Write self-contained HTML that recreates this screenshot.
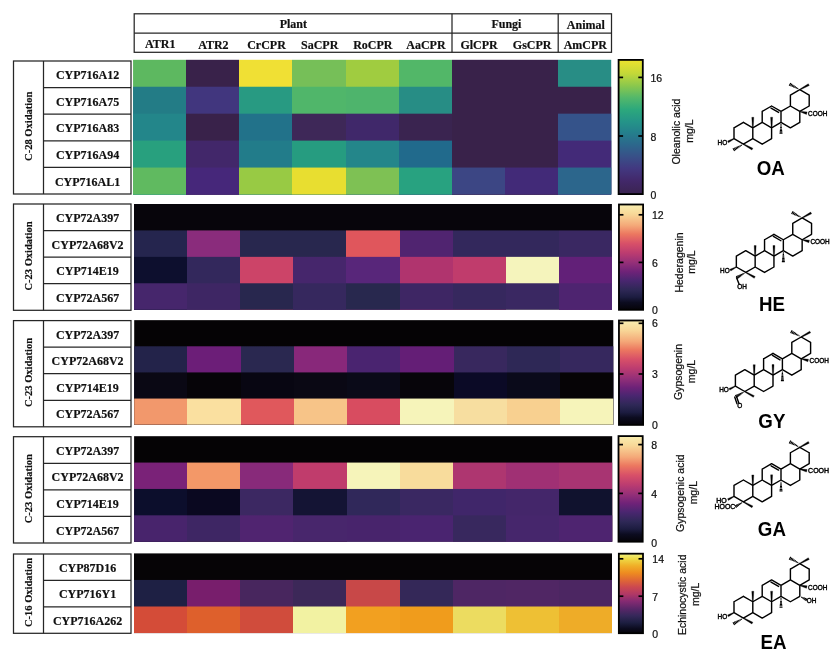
<!DOCTYPE html>
<html lang="en"><head><meta charset="utf-8"><title>CYP-CPR pairing heatmaps</title>
<style>
html,body{margin:0;padding:0;background:#fff;}
body{width:831px;height:655px;overflow:hidden;position:relative;}
svg{position:absolute;left:0;top:0;display:block;}
.se{font-family:"Liberation Serif", "Times New Roman", serif;font-weight:bold;fill:#111;stroke:#111;stroke-width:0.18;}
.sa{font-family:"Liberation Sans", Arial, sans-serif;fill:#111;stroke:#111;stroke-width:0.22;}
.sb{font-family:"Liberation Sans", Arial, sans-serif;font-weight:bold;fill:#000;}
.ln{stroke:#262626;stroke-width:1.25;fill:none;}
.bd{stroke:#000;stroke-width:1.42;fill:none;stroke-linecap:round;stroke-linejoin:round;}
.hs{stroke:#000;stroke-width:1.15;fill:none;}
.wg{fill:#000;stroke:#000;stroke-width:0.3;stroke-linejoin:round;}
.at{font-family:"Liberation Sans", Arial, sans-serif;fill:#000;stroke:#000;stroke-width:0.42;}
</style></head><body>
<svg width="831" height="655" viewBox="0 0 831 655">
<defs>
<linearGradient id="gv" x1="0" y1="0" x2="0" y2="1">
<stop offset="0" stop-color="#ECE22E"/>
<stop offset="0.1" stop-color="#C4D838"/>
<stop offset="0.19" stop-color="#8CC84C"/>
<stop offset="0.28" stop-color="#54B86A"/>
<stop offset="0.37" stop-color="#2CA87C"/>
<stop offset="0.46" stop-color="#249488"/>
<stop offset="0.54" stop-color="#24808C"/>
<stop offset="0.63" stop-color="#2C688C"/>
<stop offset="0.72" stop-color="#385088"/>
<stop offset="0.81" stop-color="#423880"/>
<stop offset="0.9" stop-color="#42286A"/>
<stop offset="1" stop-color="#3A2450"/>
</linearGradient>
<linearGradient id="gm" x1="0" y1="0" x2="0" y2="1">
<stop offset="0" stop-color="#F8EEB0"/>
<stop offset="0.09" stop-color="#F8D898"/>
<stop offset="0.2" stop-color="#F4A878"/>
<stop offset="0.28" stop-color="#EC7860"/>
<stop offset="0.37" stop-color="#D85068"/>
<stop offset="0.46" stop-color="#BC3C70"/>
<stop offset="0.55" stop-color="#963078"/>
<stop offset="0.64" stop-color="#6E2278"/>
<stop offset="0.72" stop-color="#4A2670"/>
<stop offset="0.81" stop-color="#2E2856"/>
<stop offset="0.88" stop-color="#1C1C40"/>
<stop offset="0.93" stop-color="#0C0C20"/>
<stop offset="1" stop-color="#050308"/>
</linearGradient>
<linearGradient id="gi" x1="0" y1="0" x2="0" y2="1">
<stop offset="0" stop-color="#F0F080"/>
<stop offset="0.06" stop-color="#EEDC48"/>
<stop offset="0.15" stop-color="#F0B028"/>
<stop offset="0.24" stop-color="#EE8C20"/>
<stop offset="0.33" stop-color="#E06834"/>
<stop offset="0.42" stop-color="#CC4850"/>
<stop offset="0.51" stop-color="#B03866"/>
<stop offset="0.6" stop-color="#842A72"/>
<stop offset="0.69" stop-color="#5A2668"/>
<stop offset="0.78" stop-color="#36285A"/>
<stop offset="0.87" stop-color="#1C1E40"/>
<stop offset="0.94" stop-color="#0C0C20"/>
<stop offset="1" stop-color="#050308"/>
</linearGradient>
</defs>
<rect x="0" y="0" width="831" height="655" fill="#fff"/>
<g class="ln">
<rect x="134.2" y="13.8" width="477.3" height="38.5"/>
<line x1="134.2" y1="33" x2="611.5" y2="33"/>
<line x1="452" y1="13.8" x2="452" y2="52.3"/>
<line x1="558.2" y1="13.8" x2="558.2" y2="52.3"/>
</g>
<g class="se" font-size="12" text-anchor="middle">
<text x="293.3" y="27.8">Plant</text>
<text x="506.4" y="27.8">Fungi</text>
<text x="585.85" y="28.6">Animal</text>
<text x="160.27" y="47.9">ATR1</text>
<text x="213.4" y="48.8">ATR2</text>
<text x="266.53" y="48.8">CrCPR</text>
<text x="319.67" y="48.8">SaCPR</text>
<text x="372.8" y="48.8">RoCPR</text>
<text x="425.93" y="48.8">AaCPR</text>
<text x="479.07" y="48.8">GlCPR</text>
<text x="532.2" y="48.8">GsCPR</text>
<text x="585.33" y="48.8">AmCPR</text>
</g>
<g>
<linearGradient id="r0_0" gradientUnits="userSpaceOnUse" x1="133.05" y1="0" x2="611.2" y2="0"><stop offset="0.0000" stop-color="#5DB860"/><stop offset="0.1111" stop-color="#5DB860"/><stop offset="0.1111" stop-color="#39224A"/><stop offset="0.2222" stop-color="#39224A"/><stop offset="0.2222" stop-color="#F0E034"/><stop offset="0.3333" stop-color="#F0E034"/><stop offset="0.3333" stop-color="#76BF58"/><stop offset="0.4444" stop-color="#76BF58"/><stop offset="0.4444" stop-color="#A0CC40"/><stop offset="0.5556" stop-color="#A0CC40"/><stop offset="0.5556" stop-color="#52B768"/><stop offset="0.6667" stop-color="#52B768"/><stop offset="0.6667" stop-color="#39224A"/><stop offset="0.8889" stop-color="#39224A"/><stop offset="0.8889" stop-color="#288D85"/><stop offset="1.0000" stop-color="#288D85"/></linearGradient>
<rect x="133.05" y="59.8" width="478.15" height="134.7" fill="url(#r0_0)"/>
<linearGradient id="r0_1" gradientUnits="userSpaceOnUse" x1="133.05" y1="0" x2="611.2" y2="0"><stop offset="0.0000" stop-color="#237C86"/><stop offset="0.1111" stop-color="#237C86"/><stop offset="0.1111" stop-color="#41367E"/><stop offset="0.2222" stop-color="#41367E"/><stop offset="0.2222" stop-color="#289A82"/><stop offset="0.3333" stop-color="#289A82"/><stop offset="0.3333" stop-color="#50B66A"/><stop offset="0.4444" stop-color="#50B66A"/><stop offset="0.4444" stop-color="#4EB46C"/><stop offset="0.5556" stop-color="#4EB46C"/><stop offset="0.5556" stop-color="#278D85"/><stop offset="0.6667" stop-color="#278D85"/><stop offset="0.6667" stop-color="#39224A"/><stop offset="1.0000" stop-color="#39224A"/></linearGradient>
<rect x="133.05" y="86.74" width="478.15" height="107.76" fill="url(#r0_1)"/>
<linearGradient id="r0_2" gradientUnits="userSpaceOnUse" x1="133.05" y1="0" x2="611.2" y2="0"><stop offset="0.0000" stop-color="#23868A"/><stop offset="0.1111" stop-color="#23868A"/><stop offset="0.1111" stop-color="#39224A"/><stop offset="0.2222" stop-color="#39224A"/><stop offset="0.2222" stop-color="#22728A"/><stop offset="0.3333" stop-color="#22728A"/><stop offset="0.3333" stop-color="#3E2858"/><stop offset="0.4444" stop-color="#3E2858"/><stop offset="0.4444" stop-color="#40286A"/><stop offset="0.5556" stop-color="#40286A"/><stop offset="0.5556" stop-color="#3A2450"/><stop offset="0.6667" stop-color="#3A2450"/><stop offset="0.6667" stop-color="#39224A"/><stop offset="0.8889" stop-color="#39224A"/><stop offset="0.8889" stop-color="#35538A"/><stop offset="1.0000" stop-color="#35538A"/></linearGradient>
<rect x="133.05" y="113.68" width="478.15" height="80.82" fill="url(#r0_2)"/>
<linearGradient id="r0_3" gradientUnits="userSpaceOnUse" x1="133.05" y1="0" x2="611.2" y2="0"><stop offset="0.0000" stop-color="#28A07E"/><stop offset="0.1111" stop-color="#28A07E"/><stop offset="0.1111" stop-color="#42276A"/><stop offset="0.2222" stop-color="#42276A"/><stop offset="0.2222" stop-color="#227C8A"/><stop offset="0.3333" stop-color="#227C8A"/><stop offset="0.3333" stop-color="#269C80"/><stop offset="0.4444" stop-color="#269C80"/><stop offset="0.4444" stop-color="#24868A"/><stop offset="0.5556" stop-color="#24868A"/><stop offset="0.5556" stop-color="#216A8C"/><stop offset="0.6667" stop-color="#216A8C"/><stop offset="0.6667" stop-color="#39224A"/><stop offset="0.8889" stop-color="#39224A"/><stop offset="0.8889" stop-color="#432A78"/><stop offset="1.0000" stop-color="#432A78"/></linearGradient>
<rect x="133.05" y="140.62" width="478.15" height="53.88" fill="url(#r0_3)"/>
<linearGradient id="r0_4" gradientUnits="userSpaceOnUse" x1="133.05" y1="0" x2="611.2" y2="0"><stop offset="0.0000" stop-color="#60BA60"/><stop offset="0.1111" stop-color="#60BA60"/><stop offset="0.1111" stop-color="#46277A"/><stop offset="0.2222" stop-color="#46277A"/><stop offset="0.2222" stop-color="#98CA44"/><stop offset="0.3333" stop-color="#98CA44"/><stop offset="0.3333" stop-color="#E8DE30"/><stop offset="0.4444" stop-color="#E8DE30"/><stop offset="0.4444" stop-color="#7EC154"/><stop offset="0.5556" stop-color="#7EC154"/><stop offset="0.5556" stop-color="#28A280"/><stop offset="0.6667" stop-color="#28A280"/><stop offset="0.6667" stop-color="#3C4684"/><stop offset="0.7778" stop-color="#3C4684"/><stop offset="0.7778" stop-color="#422A78"/><stop offset="0.8889" stop-color="#422A78"/><stop offset="0.8889" stop-color="#2C668C"/><stop offset="1.0000" stop-color="#2C668C"/></linearGradient>
<rect x="133.05" y="167.56" width="478.15" height="26.94" fill="url(#r0_4)"/>
</g>
<g class="ln">
<rect x="13.5" y="61" width="117.5" height="133"/>
<line x1="43.5" y1="61" x2="43.5" y2="194"/>
<line x1="43.5" y1="87.6" x2="131" y2="87.6"/>
<line x1="43.5" y1="114.2" x2="131" y2="114.2"/>
<line x1="43.5" y1="140.8" x2="131" y2="140.8"/>
<line x1="43.5" y1="167.4" x2="131" y2="167.4"/>
</g>
<g class="se" font-size="12" text-anchor="middle">
<text x="87.55" y="79.1">CYP716A12</text>
<text x="87.55" y="105.7">CYP716A75</text>
<text x="87.55" y="132.3">CYP716A83</text>
<text x="87.55" y="158.9">CYP716A94</text>
<text x="87.55" y="185.5">CYP716AL1</text>
</g>
<text class="se" font-size="11.3" text-anchor="middle" transform="translate(31.5 126.3) rotate(-90) scale(0.93 1)">C-28 Oxidation</text>
<g>
<rect x="134" y="204" width="477.9" height="105.7" fill="#07050B"/>
<linearGradient id="r1_1" gradientUnits="userSpaceOnUse" x1="134" y1="0" x2="611.9" y2="0"><stop offset="0.0000" stop-color="#25254E"/><stop offset="0.1111" stop-color="#25254E"/><stop offset="0.1111" stop-color="#8A2C7C"/><stop offset="0.2222" stop-color="#8A2C7C"/><stop offset="0.2222" stop-color="#28274E"/><stop offset="0.4444" stop-color="#28274E"/><stop offset="0.4444" stop-color="#E0565C"/><stop offset="0.5556" stop-color="#E0565C"/><stop offset="0.5556" stop-color="#502470"/><stop offset="0.6667" stop-color="#502470"/><stop offset="0.6667" stop-color="#33285C"/><stop offset="0.8889" stop-color="#33285C"/><stop offset="0.8889" stop-color="#3A2862"/><stop offset="1.0000" stop-color="#3A2862"/></linearGradient>
<rect x="134" y="230.43" width="477.9" height="79.27" fill="url(#r1_1)"/>
<linearGradient id="r1_2" gradientUnits="userSpaceOnUse" x1="134" y1="0" x2="611.9" y2="0"><stop offset="0.0000" stop-color="#0D0F2E"/><stop offset="0.1111" stop-color="#0D0F2E"/><stop offset="0.1111" stop-color="#33285C"/><stop offset="0.2222" stop-color="#33285C"/><stop offset="0.2222" stop-color="#CC4468"/><stop offset="0.3333" stop-color="#CC4468"/><stop offset="0.3333" stop-color="#46266C"/><stop offset="0.4444" stop-color="#46266C"/><stop offset="0.4444" stop-color="#58267A"/><stop offset="0.5556" stop-color="#58267A"/><stop offset="0.5556" stop-color="#B0346E"/><stop offset="0.6667" stop-color="#B0346E"/><stop offset="0.6667" stop-color="#C03C6C"/><stop offset="0.7778" stop-color="#C03C6C"/><stop offset="0.7778" stop-color="#F5F4BC"/><stop offset="0.8889" stop-color="#F5F4BC"/><stop offset="0.8889" stop-color="#622078"/><stop offset="1.0000" stop-color="#622078"/></linearGradient>
<rect x="134" y="256.85" width="477.9" height="52.85" fill="url(#r1_2)"/>
<linearGradient id="r1_3" gradientUnits="userSpaceOnUse" x1="134" y1="0" x2="611.9" y2="0"><stop offset="0.0000" stop-color="#46266C"/><stop offset="0.1111" stop-color="#46266C"/><stop offset="0.1111" stop-color="#3E2664"/><stop offset="0.2222" stop-color="#3E2664"/><stop offset="0.2222" stop-color="#28274E"/><stop offset="0.3333" stop-color="#28274E"/><stop offset="0.3333" stop-color="#36285E"/><stop offset="0.4444" stop-color="#36285E"/><stop offset="0.4444" stop-color="#28284E"/><stop offset="0.5556" stop-color="#28284E"/><stop offset="0.5556" stop-color="#3E2664"/><stop offset="0.6667" stop-color="#3E2664"/><stop offset="0.6667" stop-color="#36285E"/><stop offset="0.7778" stop-color="#36285E"/><stop offset="0.7778" stop-color="#3A2862"/><stop offset="0.8889" stop-color="#3A2862"/><stop offset="0.8889" stop-color="#4E2470"/><stop offset="1.0000" stop-color="#4E2470"/></linearGradient>
<rect x="134" y="283.27" width="477.9" height="26.43" fill="url(#r1_3)"/>
</g>
<g class="ln">
<rect x="13.5" y="204" width="117.5" height="106.3"/>
<line x1="43.5" y1="204" x2="43.5" y2="310.3"/>
<line x1="43.5" y1="230.57" x2="131" y2="230.57"/>
<line x1="43.5" y1="257.15" x2="131" y2="257.15"/>
<line x1="43.5" y1="283.73" x2="131" y2="283.73"/>
</g>
<g class="se" font-size="12" text-anchor="middle">
<text x="87.55" y="222.09">CYP72A397</text>
<text x="87.55" y="248.66">CYP72A68V2</text>
<text x="87.55" y="275.24">CYP714E19</text>
<text x="87.55" y="301.81">CYP72A567</text>
</g>
<text class="se" font-size="11.3" text-anchor="middle" transform="translate(31.5 255.95) rotate(-90) scale(0.93 1)">C-23 Oxidation</text>
<g>
<rect x="134.2" y="320.15" width="479.1" height="104.55" fill="#050305"/>
<linearGradient id="r2_1" gradientUnits="userSpaceOnUse" x1="134.2" y1="0" x2="613.3" y2="0"><stop offset="0.0000" stop-color="#23234A"/><stop offset="0.1111" stop-color="#23234A"/><stop offset="0.1111" stop-color="#6C1E78"/><stop offset="0.2222" stop-color="#6C1E78"/><stop offset="0.2222" stop-color="#2A2850"/><stop offset="0.3333" stop-color="#2A2850"/><stop offset="0.3333" stop-color="#88287A"/><stop offset="0.4444" stop-color="#88287A"/><stop offset="0.4444" stop-color="#4A2470"/><stop offset="0.5556" stop-color="#4A2470"/><stop offset="0.5556" stop-color="#641E76"/><stop offset="0.6667" stop-color="#641E76"/><stop offset="0.6667" stop-color="#38285E"/><stop offset="0.7778" stop-color="#38285E"/><stop offset="0.7778" stop-color="#2E2856"/><stop offset="0.8889" stop-color="#2E2856"/><stop offset="0.8889" stop-color="#36285E"/><stop offset="1.0000" stop-color="#36285E"/></linearGradient>
<rect x="134.2" y="346.29" width="479.1" height="78.41" fill="url(#r2_1)"/>
<linearGradient id="r2_2" gradientUnits="userSpaceOnUse" x1="134.2" y1="0" x2="613.3" y2="0"><stop offset="0.0000" stop-color="#0A0814"/><stop offset="0.1111" stop-color="#0A0814"/><stop offset="0.1111" stop-color="#060408"/><stop offset="0.2222" stop-color="#060408"/><stop offset="0.2222" stop-color="#080612"/><stop offset="0.3333" stop-color="#080612"/><stop offset="0.3333" stop-color="#0A0814"/><stop offset="0.4444" stop-color="#0A0814"/><stop offset="0.4444" stop-color="#0A0A18"/><stop offset="0.5556" stop-color="#0A0A18"/><stop offset="0.5556" stop-color="#07050A"/><stop offset="0.6667" stop-color="#07050A"/><stop offset="0.6667" stop-color="#0B0A26"/><stop offset="0.7778" stop-color="#0B0A26"/><stop offset="0.7778" stop-color="#0A0A1A"/><stop offset="0.8889" stop-color="#0A0A1A"/><stop offset="0.8889" stop-color="#060406"/><stop offset="1.0000" stop-color="#060406"/></linearGradient>
<rect x="134.2" y="372.42" width="479.1" height="52.28" fill="url(#r2_2)"/>
<linearGradient id="r2_3" gradientUnits="userSpaceOnUse" x1="134.2" y1="0" x2="613.3" y2="0"><stop offset="0.0000" stop-color="#F2986C"/><stop offset="0.1111" stop-color="#F2986C"/><stop offset="0.1111" stop-color="#FAE0A0"/><stop offset="0.2222" stop-color="#FAE0A0"/><stop offset="0.2222" stop-color="#E0585C"/><stop offset="0.3333" stop-color="#E0585C"/><stop offset="0.3333" stop-color="#F7C488"/><stop offset="0.4444" stop-color="#F7C488"/><stop offset="0.4444" stop-color="#D84C60"/><stop offset="0.5556" stop-color="#D84C60"/><stop offset="0.5556" stop-color="#F6F4BA"/><stop offset="0.6667" stop-color="#F6F4BA"/><stop offset="0.6667" stop-color="#F7DEA0"/><stop offset="0.7778" stop-color="#F7DEA0"/><stop offset="0.7778" stop-color="#F8D090"/><stop offset="0.8889" stop-color="#F8D090"/><stop offset="0.8889" stop-color="#F6F4BA"/><stop offset="1.0000" stop-color="#F6F4BA"/></linearGradient>
<rect x="134.2" y="398.56" width="479.1" height="26.14" fill="url(#r2_3)"/>
</g>
<g class="ln">
<rect x="13.5" y="320.6" width="117.5" height="106.2"/>
<line x1="43.5" y1="320.6" x2="43.5" y2="426.8"/>
<line x1="43.5" y1="347.15" x2="131" y2="347.15"/>
<line x1="43.5" y1="373.7" x2="131" y2="373.7"/>
<line x1="43.5" y1="400.25" x2="131" y2="400.25"/>
</g>
<g class="se" font-size="12" text-anchor="middle">
<text x="87.55" y="338.68">CYP72A397</text>
<text x="87.55" y="365.23">CYP72A68V2</text>
<text x="87.55" y="391.78">CYP714E19</text>
<text x="87.55" y="418.32">CYP72A567</text>
</g>
<text class="se" font-size="11.3" text-anchor="middle" transform="translate(31.5 372.5) rotate(-90) scale(0.93 1)">C-23 Oxidation</text>
<g>
<rect x="134.1" y="436.2" width="478.1" height="105.5" fill="#050305"/>
<linearGradient id="r3_1" gradientUnits="userSpaceOnUse" x1="134.1" y1="0" x2="612.2" y2="0"><stop offset="0.0000" stop-color="#7A2278"/><stop offset="0.1111" stop-color="#7A2278"/><stop offset="0.1111" stop-color="#F39868"/><stop offset="0.2222" stop-color="#F39868"/><stop offset="0.2222" stop-color="#882A7A"/><stop offset="0.3333" stop-color="#882A7A"/><stop offset="0.3333" stop-color="#C03C6C"/><stop offset="0.4444" stop-color="#C03C6C"/><stop offset="0.4444" stop-color="#F6F4BA"/><stop offset="0.5556" stop-color="#F6F4BA"/><stop offset="0.5556" stop-color="#F8DC9C"/><stop offset="0.6667" stop-color="#F8DC9C"/><stop offset="0.6667" stop-color="#AE3670"/><stop offset="0.7778" stop-color="#AE3670"/><stop offset="0.7778" stop-color="#A03074"/><stop offset="0.8889" stop-color="#A03074"/><stop offset="0.8889" stop-color="#A83472"/><stop offset="1.0000" stop-color="#A83472"/></linearGradient>
<rect x="134.1" y="462.57" width="478.1" height="79.13" fill="url(#r3_1)"/>
<linearGradient id="r3_2" gradientUnits="userSpaceOnUse" x1="134.1" y1="0" x2="612.2" y2="0"><stop offset="0.0000" stop-color="#0C0E2C"/><stop offset="0.1111" stop-color="#0C0E2C"/><stop offset="0.1111" stop-color="#0A0820"/><stop offset="0.2222" stop-color="#0A0820"/><stop offset="0.2222" stop-color="#3C2862"/><stop offset="0.3333" stop-color="#3C2862"/><stop offset="0.3333" stop-color="#141434"/><stop offset="0.4444" stop-color="#141434"/><stop offset="0.4444" stop-color="#30285A"/><stop offset="0.5556" stop-color="#30285A"/><stop offset="0.5556" stop-color="#3A2862"/><stop offset="0.6667" stop-color="#3A2862"/><stop offset="0.6667" stop-color="#40266A"/><stop offset="0.7778" stop-color="#40266A"/><stop offset="0.7778" stop-color="#44266A"/><stop offset="0.8889" stop-color="#44266A"/><stop offset="0.8889" stop-color="#10122E"/><stop offset="1.0000" stop-color="#10122E"/></linearGradient>
<rect x="134.1" y="488.95" width="478.1" height="52.75" fill="url(#r3_2)"/>
<linearGradient id="r3_3" gradientUnits="userSpaceOnUse" x1="134.1" y1="0" x2="612.2" y2="0"><stop offset="0.0000" stop-color="#48246C"/><stop offset="0.1111" stop-color="#48246C"/><stop offset="0.1111" stop-color="#3E2664"/><stop offset="0.2222" stop-color="#3E2664"/><stop offset="0.2222" stop-color="#502470"/><stop offset="0.3333" stop-color="#502470"/><stop offset="0.3333" stop-color="#48266C"/><stop offset="0.4444" stop-color="#48266C"/><stop offset="0.4444" stop-color="#48246C"/><stop offset="0.5556" stop-color="#48246C"/><stop offset="0.5556" stop-color="#4A2470"/><stop offset="0.6667" stop-color="#4A2470"/><stop offset="0.6667" stop-color="#38285E"/><stop offset="0.7778" stop-color="#38285E"/><stop offset="0.7778" stop-color="#46266C"/><stop offset="0.8889" stop-color="#46266C"/><stop offset="0.8889" stop-color="#4E2470"/><stop offset="1.0000" stop-color="#4E2470"/></linearGradient>
<rect x="134.1" y="515.33" width="478.1" height="26.38" fill="url(#r3_3)"/>
</g>
<g class="ln">
<rect x="13.5" y="436.7" width="117.5" height="106.3"/>
<line x1="43.5" y1="436.7" x2="43.5" y2="543"/>
<line x1="43.5" y1="463.27" x2="131" y2="463.27"/>
<line x1="43.5" y1="489.85" x2="131" y2="489.85"/>
<line x1="43.5" y1="516.42" x2="131" y2="516.42"/>
</g>
<g class="se" font-size="12" text-anchor="middle">
<text x="87.55" y="454.79">CYP72A397</text>
<text x="87.55" y="481.36">CYP72A68V2</text>
<text x="87.55" y="507.94">CYP714E19</text>
<text x="87.55" y="534.51">CYP72A567</text>
</g>
<text class="se" font-size="11.3" text-anchor="middle" transform="translate(31.5 488.65) rotate(-90) scale(0.93 1)">C-23 Oxidation</text>
<g>
<rect x="134" y="553.4" width="478" height="79.65" fill="#060406"/>
<linearGradient id="r4_1" gradientUnits="userSpaceOnUse" x1="134" y1="0" x2="612" y2="0"><stop offset="0.0000" stop-color="#1E2044"/><stop offset="0.1111" stop-color="#1E2044"/><stop offset="0.1111" stop-color="#781E6C"/><stop offset="0.2222" stop-color="#781E6C"/><stop offset="0.2222" stop-color="#48265E"/><stop offset="0.3333" stop-color="#48265E"/><stop offset="0.3333" stop-color="#3C2858"/><stop offset="0.4444" stop-color="#3C2858"/><stop offset="0.4444" stop-color="#C84848"/><stop offset="0.5556" stop-color="#C84848"/><stop offset="0.5556" stop-color="#342858"/><stop offset="0.6667" stop-color="#342858"/><stop offset="0.6667" stop-color="#4E2664"/><stop offset="0.7778" stop-color="#4E2664"/><stop offset="0.7778" stop-color="#502664"/><stop offset="0.8889" stop-color="#502664"/><stop offset="0.8889" stop-color="#4C2662"/><stop offset="1.0000" stop-color="#4C2662"/></linearGradient>
<rect x="134" y="579.95" width="478" height="53.1" fill="url(#r4_1)"/>
<linearGradient id="r4_2" gradientUnits="userSpaceOnUse" x1="134" y1="0" x2="612" y2="0"><stop offset="0.0000" stop-color="#D44C38"/><stop offset="0.1111" stop-color="#D44C38"/><stop offset="0.1111" stop-color="#DE602C"/><stop offset="0.2222" stop-color="#DE602C"/><stop offset="0.2222" stop-color="#D04C3C"/><stop offset="0.3333" stop-color="#D04C3C"/><stop offset="0.3333" stop-color="#F2F2A2"/><stop offset="0.4444" stop-color="#F2F2A2"/><stop offset="0.4444" stop-color="#F2A020"/><stop offset="0.5556" stop-color="#F2A020"/><stop offset="0.5556" stop-color="#F09C1C"/><stop offset="0.6667" stop-color="#F09C1C"/><stop offset="0.6667" stop-color="#ECDC60"/><stop offset="0.7778" stop-color="#ECDC60"/><stop offset="0.7778" stop-color="#EEC034"/><stop offset="0.8889" stop-color="#EEC034"/><stop offset="0.8889" stop-color="#EEAC28"/><stop offset="1.0000" stop-color="#EEAC28"/></linearGradient>
<rect x="134" y="606.5" width="478" height="26.55" fill="url(#r4_2)"/>
</g>
<g class="ln">
<rect x="13.5" y="554" width="117.5" height="79.3"/>
<line x1="43.5" y1="554" x2="43.5" y2="633.3"/>
<line x1="43.5" y1="580.43" x2="131" y2="580.43"/>
<line x1="43.5" y1="606.87" x2="131" y2="606.87"/>
</g>
<g class="se" font-size="12" text-anchor="middle">
<text x="87.55" y="572.02">CYP87D16</text>
<text x="87.55" y="598.45">CYP716Y1</text>
<text x="87.55" y="624.88">CYP716A262</text>
</g>
<text class="se" font-size="11.3" text-anchor="middle" transform="translate(31.5 592.45) rotate(-90) scale(0.93 1)">C-16 Oxidation</text>
<rect x="618.6" y="59.9" width="24.2" height="134.2" fill="url(#gv)" stroke="#000" stroke-width="1.8"/>
<g stroke="#000" stroke-width="1.7">
<line x1="618.7" y1="77.4" x2="623.1" y2="77.4"/>
<line x1="638.3" y1="77.4" x2="642.7" y2="77.4"/>
<line x1="618.7" y1="136" x2="623.1" y2="136"/>
<line x1="638.3" y1="136" x2="642.7" y2="136"/>
</g>
<g class="sa" font-size="10.5">
<text x="650.5" y="81.9">16</text>
<text x="650.5" y="140.5">8</text>
<text x="650.5" y="198.8">0</text>
</g>
<text class="sa" font-size="10.5" text-anchor="middle" transform="translate(680.1 131.6) rotate(-90)">Oleanolic acid</text>
<text class="sa" font-size="10.5" text-anchor="middle" transform="translate(692.8 131.1) rotate(-90)">mg/L</text>
<rect x="618.95" y="204.5" width="24.15" height="105.3" fill="url(#gm)" stroke="#000" stroke-width="1.8"/>
<g stroke="#000" stroke-width="1.7">
<line x1="619.05" y1="214.8" x2="623.45" y2="214.8"/>
<line x1="638.6" y1="214.8" x2="643" y2="214.8"/>
<line x1="619.05" y1="262.4" x2="623.45" y2="262.4"/>
<line x1="638.6" y1="262.4" x2="643" y2="262.4"/>
</g>
<g class="sa" font-size="10.5">
<text x="652" y="219.3">12</text>
<text x="652" y="267">6</text>
<text x="652" y="314.3">0</text>
</g>
<text class="sa" font-size="10.5" text-anchor="middle" transform="translate(682.6 262.5) rotate(-90)">Hederagenin</text>
<text class="sa" font-size="10.5" text-anchor="middle" transform="translate(694.6 262) rotate(-90)">mg/L</text>
<rect x="618.95" y="320.5" width="24.15" height="104.4" fill="url(#gm)" stroke="#000" stroke-width="1.8"/>
<g stroke="#000" stroke-width="1.7">
<line x1="619.05" y1="323.3" x2="623.45" y2="323.3"/>
<line x1="638.6" y1="323.3" x2="643" y2="323.3"/>
<line x1="619.05" y1="374" x2="623.45" y2="374"/>
<line x1="638.6" y1="374" x2="643" y2="374"/>
</g>
<g class="sa" font-size="10.5">
<text x="652" y="327.2">6</text>
<text x="652" y="378.2">3</text>
<text x="652" y="429.2">0</text>
</g>
<text class="sa" font-size="10.5" text-anchor="middle" transform="translate(682 372) rotate(-90)">Gypsogenin</text>
<text class="sa" font-size="10.5" text-anchor="middle" transform="translate(694.6 371.5) rotate(-90)">mg/L</text>
<rect x="618.5" y="436.1" width="24.2" height="105.6" fill="url(#gm)" stroke="#000" stroke-width="1.8"/>
<g stroke="#000" stroke-width="1.7">
<line x1="618.6" y1="444.6" x2="623" y2="444.6"/>
<line x1="638.2" y1="444.6" x2="642.6" y2="444.6"/>
<line x1="618.6" y1="493.4" x2="623" y2="493.4"/>
<line x1="638.2" y1="493.4" x2="642.6" y2="493.4"/>
</g>
<g class="sa" font-size="10.5">
<text x="651.3" y="449">8</text>
<text x="651.3" y="498.3">4</text>
<text x="651.3" y="546.6">0</text>
</g>
<text class="sa" font-size="10.5" text-anchor="middle" transform="translate(683.9 493.2) rotate(-90)">Gypsogenic acid</text>
<text class="sa" font-size="10.5" text-anchor="middle" transform="translate(697.1 492.7) rotate(-90)">mg/L</text>
<rect x="618.85" y="553.7" width="24.15" height="79.5" fill="url(#gi)" stroke="#000" stroke-width="1.8"/>
<g stroke="#000" stroke-width="1.7">
<line x1="618.95" y1="558.8" x2="623.35" y2="558.8"/>
<line x1="638.5" y1="558.8" x2="642.9" y2="558.8"/>
<line x1="618.95" y1="596.2" x2="623.35" y2="596.2"/>
<line x1="638.5" y1="596.2" x2="642.9" y2="596.2"/>
</g>
<g class="sa" font-size="10.5">
<text x="652.3" y="563.4">14</text>
<text x="652.3" y="600.7">7</text>
<text x="652.3" y="637.5">0</text>
</g>
<text class="sa" font-size="10.5" text-anchor="middle" transform="translate(686.4 594.8) rotate(-90)">Echinocystic acid</text>
<text class="sa" font-size="10.5" text-anchor="middle" transform="translate(699.1 594.3) rotate(-90)">mg/L</text>
<g>
<polygon class="wg" points="753.25,127.8 753.8,117.3 751.8,117.3 752.35,127.8"/>
<polygon class="wg" points="772.05,127.8 772.6,117.2 770.6,117.2 771.15,127.8"/>
<path class="hs" d="M780.49 124.64L781.51 124.64M780.32 126.08L781.68 126.08M780.16 127.51L781.84 127.51M779.99 128.95L782.01 128.95M779.83 130.38L782.17 130.38M779.66 131.82L782.34 131.82M779.5 133.25L782.5 133.25"/>
<path class="hs" d="M797.99 88.06L797.48 89M796.79 87.21L796.11 88.46M795.58 86.36L794.73 87.92M794.38 85.5L793.36 87.38M793.17 84.65L791.99 86.84M791.97 83.8L790.61 86.3M790.76 82.94L789.24 85.76"/>
<polygon class="wg" points="800.02,90.04 809.29,85.52 808.31,83.78 799.58,89.26"/>
<polygon class="wg" points="799.73,111.74 806.49,114.41 807.11,111.89 799.87,111.16"/>
<text class="at" font-size="7" text-anchor="start" transform="translate(808.1 115.65) scale(0.92 1)">COOH</text>
<polygon class="wg" points="733.81,138.35 727.55,141.06 728.45,142.74 734.19,139.05"/>
<polygon class="wg" points="743.18,144.54 751.91,150.02 752.89,148.28 743.62,143.76"/>
<path class="hs" d="M741.11 144.84L741.64 145.77M739.76 145.41L740.47 146.65M738.41 145.98L739.29 147.53M737.06 146.55L738.12 148.4M735.71 147.12L736.95 149.28M734.36 147.69L735.77 150.16M733 148.26L734.6 151.04"/>
<text class="at" font-size="7" text-anchor="end" transform="translate(727.2 144.8) scale(0.92 1)">HO</text>
<path class="bd" d="M743.4 122.35L752.8 127.8M752.8 127.8L752.8 138.7M752.8 138.7L743.4 144.15M743.4 144.15L734 138.7M734 138.7L734 127.8M734 127.8L743.4 122.35M762.2 122.35L771.6 127.8M771.6 127.8L771.6 138.7M771.6 138.7L762.2 144.15M762.2 144.15L752.8 138.7M752.8 127.8L762.2 122.35M771.6 106L781 111.45M781 111.45L781 122.35M781 122.35L771.6 127.8M771.6 127.8L762.2 122.35M762.2 122.35L762.2 111.45M762.2 111.45L771.6 106M790.4 106L799.8 111.45M799.8 111.45L799.8 122.35M799.8 122.35L790.4 127.8M790.4 127.8L781 122.35M781 111.45L790.4 106M799.8 89.65L809.2 95.1M809.2 95.1L809.2 106M809.2 106L799.8 111.45M790.4 106L790.4 95.1M790.4 95.1L799.8 89.65M771.07 108.12L778.56 112.46"/>
<text class="sb" font-size="19.6" text-anchor="middle" x="770.8" y="174.9" transform="translate(770.8 0) scale(0.955 1) translate(-770.8 0)">OA</text>
</g>
<g>
<polygon class="wg" points="755.6,256.1 756.15,245.6 754.15,245.6 754.7,256.1"/>
<polygon class="wg" points="774.4,256.1 774.95,245.5 772.95,245.5 773.5,256.1"/>
<path class="hs" d="M782.84 252.94L783.86 252.94M782.67 254.38L784.03 254.38M782.51 255.81L784.19 255.81M782.34 257.25L784.36 257.25M782.18 258.68L784.52 258.68M782.01 260.12L784.69 260.12M781.85 261.55L784.85 261.55"/>
<path class="hs" d="M800.34 216.36L799.83 217.3M799.14 215.51L798.46 216.76M797.93 214.66L797.08 216.22M796.73 213.8L795.71 215.68M795.52 212.95L794.34 215.14M794.32 212.1L792.96 214.6M793.11 211.24L791.59 214.06"/>
<polygon class="wg" points="802.37,218.34 811.64,213.82 810.66,212.08 801.93,217.56"/>
<polygon class="wg" points="802.08,240.04 808.84,242.71 809.46,240.19 802.22,239.46"/>
<text class="at" font-size="7" text-anchor="start" transform="translate(810.45 243.95) scale(0.92 1)">COOH</text>
<polygon class="wg" points="736.16,266.65 729.9,269.36 730.8,271.04 736.54,267.35"/>
<polygon class="wg" points="745.53,272.84 754.26,278.32 755.24,276.58 745.97,272.06"/>
<path class="hs" d="M743.67 273.01L744.21 273.95M742.45 273.49L743.17 274.76M741.22 273.98L742.13 275.56M740 274.46L741.09 276.37M738.78 274.95L740.05 277.17M737.56 275.43L739.01 277.98M736.33 275.92L737.97 278.78"/>
<text class="at" font-size="7" text-anchor="start" transform="translate(737.15 289.05) scale(0.92 1)">OH</text>
<text class="at" font-size="7" text-anchor="end" transform="translate(729.75 272.8) scale(0.92 1)">HO</text>
<path class="bd" d="M745.75 250.65L755.15 256.1M755.15 256.1L755.15 267M755.15 267L745.75 272.45M745.75 272.45L736.35 267M736.35 267L736.35 256.1M736.35 256.1L745.75 250.65M764.55 250.65L773.95 256.1M773.95 256.1L773.95 267M773.95 267L764.55 272.45M764.55 272.45L755.15 267M755.15 256.1L764.55 250.65M773.95 234.3L783.35 239.75M783.35 239.75L783.35 250.65M783.35 250.65L773.95 256.1M773.95 256.1L764.55 250.65M764.55 250.65L764.55 239.75M764.55 239.75L773.95 234.3M792.75 234.3L802.15 239.75M802.15 239.75L802.15 250.65M802.15 250.65L792.75 256.1M792.75 256.1L783.35 250.65M783.35 239.75L792.75 234.3M802.15 217.95L811.55 223.4M811.55 223.4L811.55 234.3M811.55 234.3L802.15 239.75M792.75 234.3L792.75 223.4M792.75 223.4L802.15 217.95M773.42 236.42L780.91 240.76M736.55 277.85L739.15 284.25"/>
<text class="sb" font-size="19.6" text-anchor="middle" x="772.1" y="310.9" transform="translate(772.1 0) scale(0.955 1) translate(-772.1 0)">HE</text>
</g>
<g>
<polygon class="wg" points="754.65,375.15 755.2,364.65 753.2,364.65 753.75,375.15"/>
<polygon class="wg" points="773.45,375.15 774,364.55 772,364.55 772.55,375.15"/>
<path class="hs" d="M781.89 371.99L782.91 371.99M781.72 373.43L783.08 373.43M781.56 374.86L783.24 374.86M781.39 376.3L783.41 376.3M781.23 377.73L783.57 377.73M781.06 379.17L783.74 379.17M780.9 380.6L783.9 380.6"/>
<path class="hs" d="M799.39 335.41L798.88 336.35M798.19 334.56L797.51 335.81M796.98 333.71L796.13 335.27M795.78 332.85L794.76 334.73M794.57 332L793.39 334.19M793.37 331.15L792.01 333.65M792.16 330.29L790.64 333.11"/>
<polygon class="wg" points="801.42,337.39 810.69,332.87 809.71,331.13 800.98,336.61"/>
<polygon class="wg" points="801.13,359.09 807.89,361.76 808.51,359.24 801.27,358.51"/>
<text class="at" font-size="7" text-anchor="start" transform="translate(809.5 363) scale(0.92 1)">COOH</text>
<polygon class="wg" points="735.21,385.7 728.95,388.41 729.85,390.09 735.59,386.4"/>
<polygon class="wg" points="744.58,391.89 753.31,397.37 754.29,395.63 745.02,391.11"/>
<path class="hs" d="M742.72 392.06L743.26 393M741.5 392.54L742.22 393.81M740.27 393.03L741.18 394.61M739.05 393.51L740.14 395.42M737.83 394L739.1 396.22M736.61 394.48L738.06 397.03M735.38 394.97L737.02 397.83"/>
<text class="at" font-size="7" text-anchor="middle" transform="translate(739.7 408.3) scale(0.92 1)">O</text>
<text class="at" font-size="7" text-anchor="end" transform="translate(728.8 391.95) scale(0.92 1)">HO</text>
<path class="bd" d="M744.8 369.7L754.2 375.15M754.2 375.15L754.2 386.05M754.2 386.05L744.8 391.5M744.8 391.5L735.4 386.05M735.4 386.05L735.4 375.15M735.4 375.15L744.8 369.7M763.6 369.7L773 375.15M773 375.15L773 386.05M773 386.05L763.6 391.5M763.6 391.5L754.2 386.05M754.2 375.15L763.6 369.7M773 353.35L782.4 358.8M782.4 358.8L782.4 369.7M782.4 369.7L773 375.15M773 375.15L763.6 369.7M763.6 369.7L763.6 358.8M763.6 358.8L773 353.35M791.8 353.35L801.2 358.8M801.2 358.8L801.2 369.7M801.2 369.7L791.8 375.15M791.8 375.15L782.4 369.7M782.4 358.8L791.8 353.35M801.2 337L810.6 342.45M810.6 342.45L810.6 353.35M810.6 353.35L801.2 358.8M791.8 353.35L791.8 342.45M791.8 342.45L801.2 337M772.47 355.47L779.96 359.81M734.7 397.1L737 403.7M736.5 396.5L738.8 403.1"/>
<text class="sb" font-size="19.6" text-anchor="middle" x="771.9" y="427.9" transform="translate(771.9 0) scale(0.955 1) translate(-771.9 0)">GY</text>
</g>
<g>
<polygon class="wg" points="753.25,485.45 753.8,474.95 751.8,474.95 752.35,485.45"/>
<polygon class="wg" points="772.05,485.45 772.6,474.85 770.6,474.85 771.15,485.45"/>
<path class="hs" d="M780.49 482.29L781.51 482.29M780.32 483.73L781.68 483.73M780.16 485.16L781.84 485.16M779.99 486.6L782.01 486.6M779.83 488.03L782.17 488.03M779.66 489.47L782.34 489.47M779.5 490.9L782.5 490.9"/>
<path class="hs" d="M797.99 445.71L797.48 446.65M796.79 444.86L796.11 446.11M795.58 444.01L794.73 445.57M794.38 443.15L793.36 445.03M793.17 442.3L791.99 444.49M791.97 441.45L790.61 443.95M790.76 440.59L789.24 443.41"/>
<polygon class="wg" points="800.02,447.69 809.29,443.17 808.31,441.43 799.58,446.91"/>
<polygon class="wg" points="799.73,469.39 806.49,472.06 807.11,469.54 799.87,468.81"/>
<text class="at" font-size="7" text-anchor="start" transform="translate(808.1 473.3) scale(1 1)">COOH</text>
<polygon class="wg" points="733.81,496 727.55,498.71 728.45,500.39 734.19,496.7"/>
<polygon class="wg" points="743.18,502.19 751.91,507.67 752.89,505.93 743.62,501.41"/>
<path class="hs" d="M741.28 502.46L741.83 503.37M740.04 503.01L740.77 504.21M738.8 503.56L739.71 505.06M737.56 504.11L738.65 505.91M736.32 504.65L737.59 506.75M735.08 505.2L736.52 507.6"/>
<text class="at" font-size="7" text-anchor="end" transform="translate(735.4 508.8) scale(1 1)">HOOC</text>
<text class="at" font-size="7" text-anchor="end" transform="translate(726.8 502.95) scale(1 1)">HO</text>
<path class="bd" d="M743.4 480L752.8 485.45M752.8 485.45L752.8 496.35M752.8 496.35L743.4 501.8M743.4 501.8L734 496.35M734 496.35L734 485.45M734 485.45L743.4 480M762.2 480L771.6 485.45M771.6 485.45L771.6 496.35M771.6 496.35L762.2 501.8M762.2 501.8L752.8 496.35M752.8 485.45L762.2 480M771.6 463.65L781 469.1M781 469.1L781 480M781 480L771.6 485.45M762.2 480L762.2 469.1M762.2 469.1L771.6 463.65M790.4 463.65L799.8 469.1M799.8 469.1L799.8 480M799.8 480L790.4 485.45M790.4 485.45L781 480M781 469.1L790.4 463.65M799.8 447.3L809.2 452.75M809.2 452.75L809.2 463.65M809.2 463.65L799.8 469.1M790.4 463.65L790.4 452.75M790.4 452.75L799.8 447.3M771.07 465.77L778.56 470.11"/>
<text class="sb" font-size="19.6" text-anchor="middle" x="771.9" y="536.5" transform="translate(771.9 0) scale(0.955 1) translate(-771.9 0)">GA</text>
</g>
<g>
<polygon class="wg" points="753.25,601.75 753.8,591.25 751.8,591.25 752.35,601.75"/>
<polygon class="wg" points="772.05,601.75 772.6,591.15 770.6,591.15 771.15,601.75"/>
<path class="hs" d="M780.49 598.59L781.51 598.59M780.32 600.03L781.68 600.03M780.16 601.46L781.84 601.46M779.99 602.9L782.01 602.9M779.83 604.33L782.17 604.33M779.66 605.77L782.34 605.77M779.5 607.2L782.5 607.2"/>
<path class="hs" d="M797.99 562.01L797.48 562.95M796.79 561.16L796.11 562.41M795.58 560.31L794.73 561.87M794.38 559.45L793.36 561.33M793.17 558.6L791.99 560.79M791.97 557.75L790.61 560.25M790.76 556.89L789.24 559.71"/>
<polygon class="wg" points="800.02,563.99 809.29,559.47 808.31,557.73 799.58,563.21"/>
<polygon class="wg" points="799.73,585.69 806.49,588.36 807.11,585.84 799.87,585.11"/>
<text class="at" font-size="7" text-anchor="start" transform="translate(808.1 589.6) scale(0.92 1)">COOH</text>
<polygon class="wg" points="733.81,612.3 727.55,615.01 728.45,616.69 734.19,613"/>
<polygon class="wg" points="743.18,618.49 751.91,623.97 752.89,622.23 743.62,617.71"/>
<path class="hs" d="M741.11 618.79L741.64 619.72M739.76 619.36L740.47 620.6M738.41 619.93L739.29 621.48M737.06 620.5L738.12 622.35M735.71 621.07L736.95 623.23M734.36 621.64L735.77 624.11M733 622.21L734.6 624.99"/>
<text class="at" font-size="7" text-anchor="end" transform="translate(727.2 618.75) scale(0.92 1)">HO</text>
<path class="hs" d="M801.42 597.79L801.95 596.76M802.51 598.58L803.22 597.18M803.59 599.37L804.5 597.61M804.67 600.15L805.77 598.03M805.76 600.94L807.04 598.46"/>
<text class="at" font-size="7" text-anchor="start" transform="translate(806.8 603.3) scale(0.92 1)">OH</text>
<path class="bd" d="M743.4 596.3L752.8 601.75M752.8 601.75L752.8 612.65M752.8 612.65L743.4 618.1M743.4 618.1L734 612.65M734 612.65L734 601.75M734 601.75L743.4 596.3M762.2 596.3L771.6 601.75M771.6 601.75L771.6 612.65M771.6 612.65L762.2 618.1M762.2 618.1L752.8 612.65M752.8 601.75L762.2 596.3M771.6 579.95L781 585.4M781 585.4L781 596.3M781 596.3L771.6 601.75M762.2 596.3L762.2 585.4M762.2 585.4L771.6 579.95M790.4 579.95L799.8 585.4M799.8 585.4L799.8 596.3M799.8 596.3L790.4 601.75M790.4 601.75L781 596.3M781 585.4L790.4 579.95M799.8 563.6L809.2 569.05M809.2 569.05L809.2 579.95M809.2 579.95L799.8 585.4M790.4 579.95L790.4 569.05M790.4 569.05L799.8 563.6M771.07 582.07L778.56 586.41"/>
<text class="sb" font-size="19.6" text-anchor="middle" x="773.6" y="648.6" transform="translate(773.6 0) scale(0.955 1) translate(-773.6 0)">EA</text>
</g>
</svg>
</body></html>
